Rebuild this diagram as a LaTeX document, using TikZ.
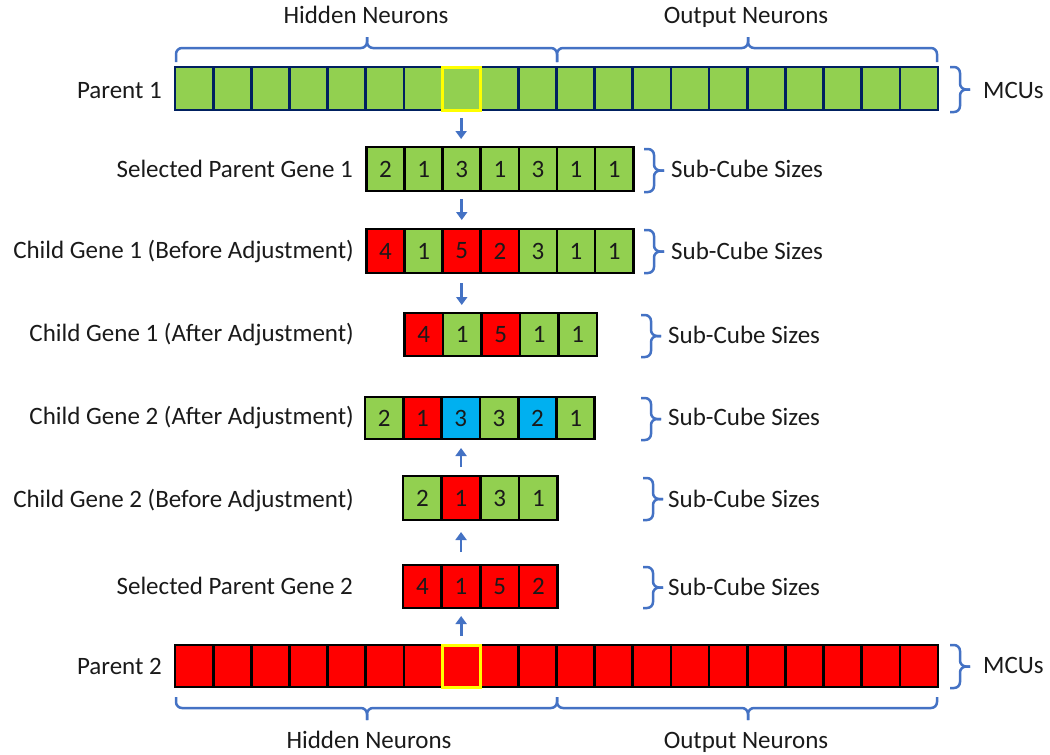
\documentclass[tikz,border=0pt]{standalone}
\usepackage{fontspec}
\setmainfont{Carlito}
\usetikzlibrary{arrows.meta}
\definecolor{cgreen}{HTML}{92D050}
\definecolor{cred}{HTML}{FF0000}
\definecolor{cblue}{HTML}{00B0F0}
\definecolor{cnavy}{HTML}{002060}
\definecolor{cbrace}{HTML}{4472C4}
\definecolor{cyel}{HTML}{FFFF00}
\definecolor{ctext}{HTML}{1A1A1A}
\newcommand\rbr[3]{%
  \draw[brc] (#1,#2) -- (#1+10,#2) -- (#1+10,{(#2+#3)/2}) -- (#1+20,{(#2+#3)/2});
  \draw[brc] (#1,#3) -- (#1+10,#3) -- (#1+10,{(#2+#3)/2}) -- (#1+20,{(#2+#3)/2});}
\newcommand\hbr[6]{%
  \draw[brc] (#1,#4) -- (#1,#5) -- (#3,#5) -- (#3,#6);
  \draw[brc] (#2,#4) -- (#2,#5) -- (#3,#5) -- (#3,#6);}
\begin{document}
\begin{tikzpicture}[x=1pt,y=-1pt,
  font=\fontsize{25}{30}\selectfont,
  cell/.style={draw=black, line width=2.7pt, inner sep=0pt, outer sep=0pt, anchor=north west, text=ctext},
  brc/.style={draw=cbrace, line width=2.5pt, rounded corners=6pt},
  arr/.style={draw=cbrace, line width=2.8pt, -{Triangle[length=8pt,width=11pt]}},
  lbl/.style={inner sep=0pt, text=ctext}]
\useasboundingbox (0,0) rectangle (1050,755);

% Parent 1
\foreach \i in {1,...,20}
  \node[cell, draw=cnavy, fill=cgreen, minimum width=38.15pt, minimum height=43pt] (p1-\i) at ({175+(\i-1)*38.15},67) {};
\draw[cyel, line width=3pt] (p1-8.north west) rectangle (p1-8.south east);

% Selected Parent Gene 1
\foreach \c/\n [count=\i] in {cgreen/2,cgreen/1,cgreen/3,cgreen/1,cgreen/3,cgreen/1,cgreen/1}
  \node[cell, fill=\c, minimum width=38.1pt, minimum height=44pt] (sg1-\i) at ({366.5+(\i-1)*38.1},147) {\n};

% Child Gene 1 (Before)
\foreach \c/\n [count=\i] in {cred/4,cgreen/1,cred/5,cred/2,cgreen/3,cgreen/1,cgreen/1}
  \node[cell, fill=\c, minimum width=38.1pt, minimum height=44pt] (cg1b-\i) at ({366.5+(\i-1)*38.1},229) {\n};

% Child Gene 1 (After)
\foreach \c/\n [count=\i] in {cred/4,cgreen/1,cred/5,cgreen/1,cgreen/1}
  \node[cell, fill=\c, minimum width=38.5pt, minimum height=43pt] (cg1a-\i) at ({404.5+(\i-1)*38.5},313) {\n};

% Child Gene 2 (After)
\foreach \c/\n [count=\i] in {cgreen/2,cred/1,cblue/3,cgreen/3,cblue/2,cgreen/1}
  \node[cell, fill=\c, minimum width=38.3pt, minimum height=42pt] (cg2a-\i) at ({365+(\i-1)*38.3},397) {\n};

% Child Gene 2 (Before)
\foreach \c/\n [count=\i] in {cgreen/2,cred/1,cgreen/3,cgreen/1}
  \node[cell, fill=\c, minimum width=38.7pt, minimum height=44pt] (cg2b-\i) at ({403+(\i-1)*38.7},476) {\n};

% Selected Parent Gene 2
\foreach \c/\n [count=\i] in {cred/4,cred/1,cred/5,cred/2}
  \node[cell, fill=\c, minimum width=38.7pt, minimum height=43pt] (sg2-\i) at ({403+(\i-1)*38.7},565) {\n};

% Parent 2
\foreach \i in {1,...,20}
  \node[cell, fill=cred, minimum width=38.15pt, minimum height=42pt] (p2-\i) at ({175+(\i-1)*38.15},645) {};
\draw[cyel, line width=3pt] (p2-8.north west) rectangle (p2-8.south east);

% Arrows
\draw[arr, shorten <=8pt, shorten >=8pt] (p1-8.south) -- (p1-8.south |- sg1-3.north);
\draw[arr, shorten <=8pt, shorten >=9pt] (sg1-3.south) -- (sg1-3.south |- cg1b-3.north);
\draw[arr, shorten <=10pt, shorten >=8pt] (cg1b-3.south) -- (cg1b-3.south |- cg1a-2.north);
\draw[arr, shorten <=9pt, shorten >=9pt] (cg2b-2.north) -- (cg2b-2.north |- cg2a-3.south);
\draw[arr, shorten <=13pt, shorten >=12pt] (sg2-2.north) -- (sg2-2.north |- cg2b-2.south);
\draw[arr, shorten <=9pt, shorten >=8pt] (p2-8.north) -- (p2-8.north |- sg2-2.south);

% Braces
\hbr{176}{557}{367}{62}{48}{37}
\hbr{557}{937}{748}{62}{48}{37}
\hbr{176}{557}{367}{697}{708}{720}
\hbr{557}{937}{748}{697}{708}{720}
\rbr{950}{67}{112}
\rbr{644}{149}{192}
\rbr{644}{230}{273}
\rbr{641}{315}{357}
\rbr{641}{398}{440}
\rbr{643}{478}{520}
\rbr{643}{567}{608}
\rbr{950}{645}{688}

% Top/bottom texts
\node[lbl, anchor=base] (hnt) at (366,23) {Hidden Neurons};
\node[lbl, anchor=base] (ont) at (746,23) {Output Neurons};
\node[lbl, anchor=base] (hnb) at (369,748) {Hidden Neurons};
\node[lbl, anchor=base] (onb) at (746,748) {Output Neurons};
\node[lbl, anchor=base west] (mcu1) at (983,98) {MCUs};
\node[lbl, anchor=base west] (mcu2) at (983,673) {MCUs};

% Sub-cube texts
\node[lbl, anchor=base west] (sc1) at (671,177) {Sub-Cube Sizes};
\node[lbl, anchor=base west] (sc2) at (671,259) {Sub-Cube Sizes};
\node[lbl, anchor=base west] (sc3) at (668,343) {Sub-Cube Sizes};
\node[lbl, anchor=base west] (sc4) at (668,425) {Sub-Cube Sizes};
\node[lbl, anchor=base west] (sc5) at (668,507) {Sub-Cube Sizes};
\node[lbl, anchor=base west] (sc6) at (668,595) {Sub-Cube Sizes};

% Row labels
\node[lbl, anchor=base east] (lp1) at (162,98) {Parent 1};
\node[lbl, anchor=base east] (lsg1) at (353,177) {Selected Parent Gene 1};
\node[lbl, anchor=base east] (lcg1b) at (354,258) {Child Gene 1 (Before Adjustment)};
\node[lbl, anchor=base east] (lcg1a) at (354,341) {Child Gene 1 (After Adjustment)};
\node[lbl, anchor=base east] (lcg2a) at (354,424) {Child Gene 2 (After Adjustment)};
\node[lbl, anchor=base east] (lcg2b) at (354,507) {Child Gene 2 (Before Adjustment)};
\node[lbl, anchor=base east] (lsg2) at (353,594) {Selected Parent Gene 2};
\node[lbl, anchor=base east] (lp2) at (162,674) {Parent 2};
\end{tikzpicture}
\end{document}
